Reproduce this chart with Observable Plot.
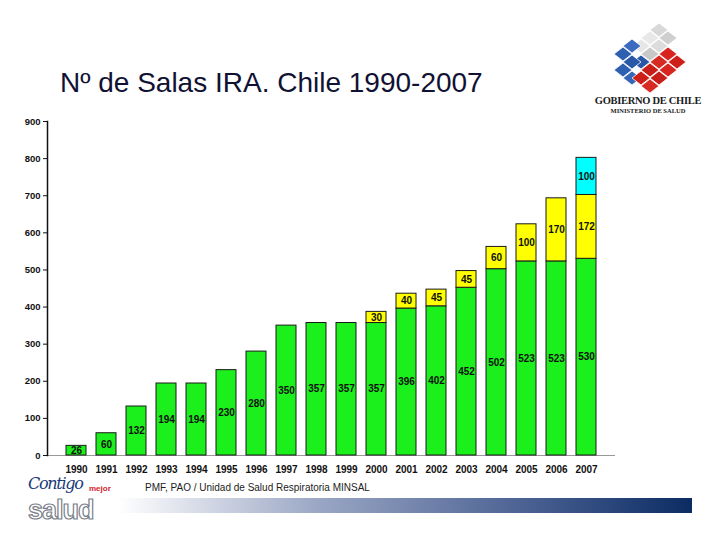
<!DOCTYPE html>
<html><head><meta charset="utf-8">
<script src="https://cdn.jsdelivr.net/npm/d3@7"></script>
<script src="https://cdn.jsdelivr.net/npm/@observablehq/plot@0.6"></script>
<style>
html,body{margin:0;padding:0;background:#fff;}
#wrap{position:relative;width:720px;height:540px;overflow:hidden;font-family:"Liberation Sans",Arial,sans-serif;}
#chart{position:absolute;left:0;top:0;}
.abs{position:absolute;white-space:nowrap;}
</style></head><body>
<div id="wrap">
  <div class="abs" style="left:60px;top:67px;font-size:28px;color:#111133;">Nº de Salas IRA. Chile 1990-2007</div>
  <svg class="abs" style="left:588px;top:22px" width="124" height="96" viewBox="0 0 124 96">
    <g id="logo"></g>
    <text x="60" y="82" text-anchor="middle" font-family="Liberation Serif, serif" font-weight="bold" font-size="10.5" letter-spacing="-0.3" fill="#1a1a1a">GOBIERNO DE CHILE</text>
    <text x="60" y="91" text-anchor="middle" font-family="Liberation Serif, serif" font-weight="bold" font-size="6.5" fill="#1a1a1a">MINISTERIO DE SALUD</text>
  </svg>
  <div class="abs" style="left:28px;top:476px;line-height:15px;height:15px;font-family:'DejaVu Serif',serif;font-style:italic;font-size:16px;color:#1b3a7a;letter-spacing:-1.3px;">Contigo</div>
  <div class="abs" style="left:89px;top:484px;line-height:9px;font-size:8px;font-weight:bold;color:#d2232a;">mejor</div>
  <div class="abs" style="left:28px;top:497px;font-size:27px;line-height:26px;height:26px;font-weight:bold;color:#fff;-webkit-text-stroke:1.2px #7a7f8a;letter-spacing:-1px;">salud</div>
  <div class="abs" style="left:145px;top:482px;font-size:10px;color:#222;">PMF, PAO / Unidad de Salud Respiratoria MINSAL</div>
  <div class="abs" style="left:118px;top:498px;width:574px;height:15px;background:linear-gradient(to right,#ffffff,#9aa6c4 35%,#4d6394 70%,#0b2c63);"></div>
  <div id="chart"></div>
</div>
<script>
const years = ["1990","1991","1992","1993","1994","1995","1996","1997","1998","1999","2000","2001","2002","2003","2004","2005","2006","2007"];
const base   = [26,60,132,194,194,230,280,350,357,357,357,396,402,452,502,523,523,530];
const added  = [0,0,0,0,0,0,0,0,0,0,30,40,45,45,60,100,170,172];
const newest = [0,0,0,0,0,0,0,0,0,0,0,0,0,0,0,0,0,100];
const yTicks = [0,100,200,300,400,500,600,700,800,900];
const seriesNames = ["base","added","newest"];
const seriesColors = ["#1cf01c","#ffff00","#00ffff"];

const rows = [];
[base, added, newest].forEach((arr, s) => {
  arr.forEach((v, i) => { if (v > 0) rows.push({year: years[i], series: seriesNames[s], value: v}); });
});

const plot = Plot.plot({
  width: 720,
  height: 540,
  marginTop: 121,
  marginBottom: 85,
  marginLeft: 47,
  marginRight: 105,
  style: {fontFamily: "'Liberation Sans', Arial, sans-serif", background: "transparent"},
  x: {domain: years, padding: 0.33, label: null},
  y: {domain: [0, 900], label: null},
  color: {type: "ordinal", domain: seriesNames, range: seriesColors},
  marks: [
    Plot.ruleY([0], {stroke: "#999", strokeWidth: 1}),
    Plot.barY(rows, {x: "year", y: "value", fill: "series", stroke: "#1a1a1a", strokeWidth: 1, order: null}),
    Plot.text(rows, Plot.stackY({x: "year", y: "value", z: "series", order: null, text: d => d.value, fontSize: 10, fontWeight: "bold", fill: "#111"})),
    Plot.axisY({ticks: yTicks, tickSize: 4, tickPadding: 3, fontSize: 9.5, fontWeight: "bold", label: null, stroke: "#111", fill: "#111"}),
    Plot.axisX({tickSize: 0, tickPadding: 10, fontSize: 10, fontWeight: "bold", label: null, fill: "#111"}),
    Plot.frame({anchor: "left", stroke: "#111", strokeWidth: 1.5})
  ]
});
document.getElementById("chart").appendChild(plot);

// decorative logo diamonds
const g = d3.select("#logo");
const cells = [
  [5,0,"#d8d8d8"],[4,1,"#e8e8e8"],[6,1,"#cfcfcf"],[5,2,"#dcdcdc"],[3,2,"#e6e6e6"],[4,3,"#c8c8c8"],
  [2,2,"#3a6bc0"],[1,3,"#2f5fb0"],[3,4,"#2a58a8"],[2,4,"#2a58a8"],[1,5,"#2f5fb0"],[2,6,"#3566b8"],
  [6,3,"#d8241f"],[7,4,"#cc1f1a"],[5,4,"#d62a22"],[4,5,"#c81e19"],[6,5,"#d8241f"],[3,6,"#cc1f1a"],[5,6,"#c81e19"],[4,7,"#d62a22"]
];
cells.forEach(([c, r, col]) => {
  const cx = 26 + c * 9, cy = 8 + r * 8;
  g.append("path").attr("d", `M${cx},${cy-7}L${cx+9},${cy}L${cx},${cy+7}L${cx-9},${cy}Z`).attr("fill", col).attr("stroke", "#fff").attr("stroke-width", 0.8);
});
</script>
</body></html>
